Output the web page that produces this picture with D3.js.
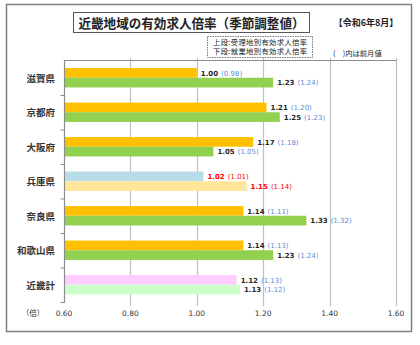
<!DOCTYPE html>
<html><head><meta charset="utf-8">
<script src="https://cdn.jsdelivr.net/npm/d3@7"></script>
<style>
body{margin:0;background:#fff;}
svg{display:block;}
text{font-family:"Noto Sans CJK JP","Noto Sans",sans-serif;}
</style></head>
<body><svg id="c" width="420" height="345"></svg>
<script>
const categories = ["滋賀県","京都府","大阪府","兵庫県","奈良県","和歌山県","近畿計"];
const upperValues = [1.00,1.21,1.17,1.02,1.14,1.14,1.12];
const upperPrev   = [0.98,1.20,1.18,1.01,1.11,1.13,1.13];
const lowerValues = [1.23,1.25,1.05,1.15,1.33,1.23,1.13];
const lowerPrev   = [1.24,1.23,1.05,1.14,1.32,1.24,1.12];
const tickValues  = [0.60,0.80,1.00,1.20,1.40,1.60];
const upperColors = ["#FFC000","#FFC000","#FFC000","#B7DEE8","#FFC000","#FFC000","#FFCCFF"];
const lowerColors = ["#92D050","#92D050","#92D050","#FFE699","#92D050","#92D050","#CCFFCC"];
const labelColorsValue = ["#262626","#262626","#262626","#FF0000","#262626","#262626","#262626"];
const labelColorsPrev  = ["#5B8BD0","#5B8BD0","#5B8BD0","#FF0000","#5B8BD0","#5B8BD0","#5B8BD0"];

const svg = d3.select("#c");
// outer frame
svg.append("rect").attr("x",6.5).attr("y",4.5).attr("width",405).attr("height",327)
  .attr("fill","#fff").attr("stroke","#7f7f7f").attr("stroke-width",1.5);

const x = d3.scaleLinear().domain([0.6,1.6]).range([64,396]);
const y0 = d3.scaleBand().domain(categories).range([60.5,302]).paddingInner(0).paddingOuter(0);
const y1 = d3.scaleBand().domain(["u","l"]).range([0,y0.bandwidth()]).paddingInner(0).paddingOuter(0.78);

// gridlines
svg.append("g").selectAll("line").data(tickValues.slice(1)).join("line")
  .attr("x1",d=>Math.round(x(d))+0.5).attr("x2",d=>Math.round(x(d))+0.5)
  .attr("y1",58).attr("y2",306).attr("stroke","#bfbfbf").attr("stroke-width",1.2);
// top line
svg.append("line").attr("x1",64).attr("x2",396.5).attr("y1",60.5).attr("y2",60.5)
  .attr("stroke","#8c8c8c").attr("stroke-width",1.2);

const data = categories.map((c,i)=>({c,i}));
const g = svg.append("g");
// bars
g.selectAll("rect.u").data(data).join("rect").attr("class","u")
  .attr("x",x(0.6)).attr("y",d=>y0(d.c)+y1("u")).attr("height",y1.bandwidth())
  .attr("width",d=>x(upperValues[d.i])-x(0.6)).attr("fill",d=>upperColors[d.i]);
g.selectAll("rect.l").data(data).join("rect").attr("class","l")
  .attr("x",x(0.6)).attr("y",d=>y0(d.c)+y1("l")).attr("height",y1.bandwidth())
  .attr("width",d=>x(lowerValues[d.i])-x(0.6)).attr("fill",d=>lowerColors[d.i]);

// left axis
svg.append("line").attr("x1",64.5).attr("x2",64.5).attr("y1",60).attr("y2",303)
  .attr("stroke","#8c8c8c").attr("stroke-width",1.2);
svg.append("g").selectAll("line").data(categories.slice(1).concat(["end"])).join("line")
  .attr("x1",60.5).attr("x2",64.5)
  .attr("y1",(d,i)=> i<categories.length-1 ? y0(d)+0.5 : 302.5)
  .attr("y2",(d,i)=> i<categories.length-1 ? y0(d)+0.5 : 302.5)
  .attr("stroke","#8c8c8c").attr("stroke-width",1);

// labels
function addLabels(vals, prev, key){
  const t = svg.append("g").selectAll("text").data(data).join("text")
    .attr("x",d=>x(vals[d.i])+4).attr("y",d=>y0(d.c)+y1(key)+y1.bandwidth()/2+2.6)
    .attr("font-size",7).style("font-family","Tahoma,'DejaVu Sans',sans-serif");
  t.append("tspan").attr("font-weight","bold").attr("fill",d=>labelColorsValue[d.i])
    .text(d=>vals[d.i].toFixed(2));
  t.append("tspan").attr("dx",3).attr("fill",d=>labelColorsPrev[d.i])
    .text(d=>"("+prev[d.i].toFixed(2)+")");
}
addLabels(upperValues, upperPrev, "u");
addLabels(lowerValues, lowerPrev, "l");

// category labels
svg.append("g").selectAll("text").data(categories).join("text")
  .attr("x",55).attr("y",d=>y0(d)+y0.bandwidth()/2+4)
  .attr("text-anchor","end").attr("font-size",9.5).attr("font-weight","bold").attr("fill","#333")
  .text(d=>d);

// x tick labels
svg.append("g").selectAll("text").data(tickValues).join("text")
  .attr("x",d=>x(d)).attr("y",316).attr("text-anchor","middle").attr("font-size",7.5)
  .attr("fill","#333").style("font-family","Tahoma,'DejaVu Sans',sans-serif")
  .text(d=>d.toFixed(2));
svg.append("text").attr("x",33).attr("y",316).attr("text-anchor","middle")
  .attr("font-size",7.5).attr("fill","#333").text("（倍）");

// title
svg.append("rect").attr("x",73.5).attr("y",12.5).attr("width",236).attr("height",20)
  .attr("fill","#fff").attr("stroke","#555").attr("stroke-width",1);
svg.append("text").attr("x",191.5).attr("y",27.5).attr("text-anchor","middle")
  .attr("font-size",13).attr("font-weight","bold").attr("fill","#222")
  .attr("textLength",226).attr("lengthAdjust","spacingAndGlyphs")
  .text("近畿地域の有効求人倍率（季節調整値）");
svg.append("text").attr("x",366).attr("y",25.5).attr("text-anchor","middle")
  .attr("font-size",9).attr("font-weight","bold").attr("fill","#222")
  .text("【令和6年8月】");

// legend box
svg.append("rect").attr("x",207.5).attr("y",36.5).attr("width",105).attr("height",21)
  .attr("fill","#fff").attr("stroke","#555").attr("stroke-width",0.8).attr("stroke-dasharray","1.5,1");
svg.append("text").attr("x",213).attr("y",45).attr("font-size",7.3).attr("fill","#222")
  .attr("textLength",94).attr("lengthAdjust","spacing")
  .text("上段:受理地別有効求人倍率");
svg.append("text").attr("x",213).attr("y",54).attr("font-size",7.3).attr("fill","#222")
  .attr("textLength",94).attr("lengthAdjust","spacing")
  .text("下段:就業地別有効求人倍率");
svg.append("text").attr("x",333).attr("y",56).attr("font-size",7.3).attr("fill","#222")
  .attr("xml:space","preserve").text("(　)内は前月値");
</script></body></html>
